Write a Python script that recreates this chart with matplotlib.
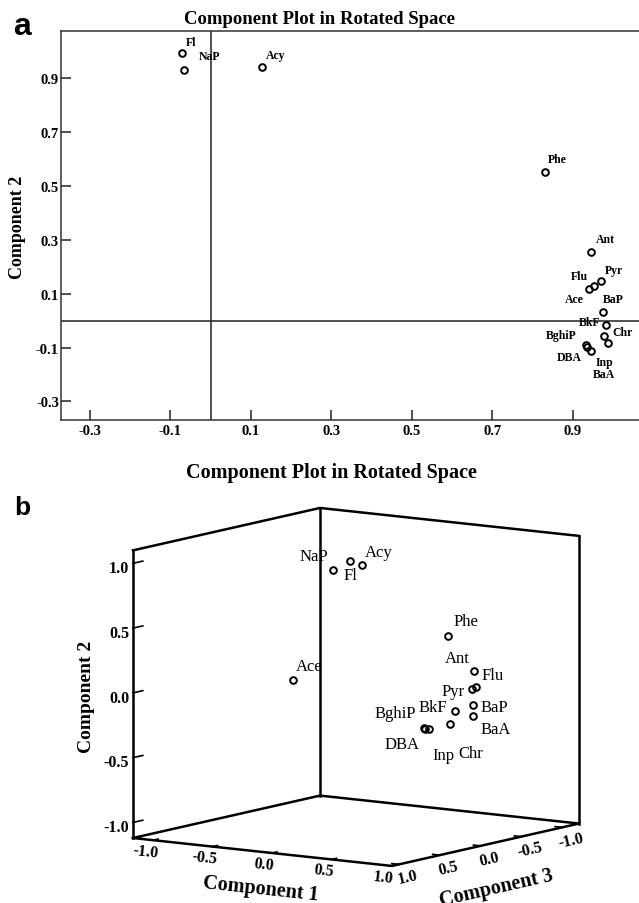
import numpy as np
import matplotlib
matplotlib.use("Agg")
import matplotlib.pyplot as plt

plt.rcParams["font.family"] = ["Liberation Serif", "DejaVu Serif"]
plt.rcParams["axes.unicode_minus"] = False

W, H = 639, 904

# ---------------------------------------------------------------
# data: (a) two-component rotated loadings
# ---------------------------------------------------------------
labels_a = ["Fl", "NaP", "Acy", "Phe", "Ant", "Pyr", "Flu", "Ace",
            "BaP", "BkF", "Chr", "BaA", "BghiP", "DBA", "Inp"]
comp1_a = [-0.072, -0.067, 0.128, 0.831, 0.946, 0.969, 0.940, 0.953,
           0.974, 0.983, 0.978, 0.988, 0.932, 0.936, 0.946]
comp2_a = [0.992, 0.930, 0.940, 0.551, 0.253, 0.148, 0.119, 0.129,
           0.033, -0.017, -0.056, -0.085, -0.091, -0.097, -0.112]
ticks_a = [-0.3, -0.1, 0.1, 0.3, 0.5, 0.7, 0.9]

# (b) three-component rotated loadings
labels_b = ["NaP", "Fl", "Acy", "Ace", "Phe", "Ant", "Flu", "Pyr",
            "BaP", "BaA", "BkF", "Chr", "BghiP", "DBA", "Inp"]
comp1_b = [-0.05, -0.02, 0.12, 0.10, 0.80, 0.90, 0.92, 0.92,
           0.94, 0.94, 0.90, 0.90, 0.88, 0.88, 0.88]
comp2_b = [0.94, 0.99, 0.98, 0.21, 0.49, 0.21, 0.09, 0.08,
           -0.04, -0.13, -0.07, -0.16, -0.15, -0.16, -0.17]
comp3_b = [0.26, 0.10, 0.16, 0.98, 0.09, -0.08, -0.07, -0.03,
           -0.01, -0.01, 0.16, 0.21, 0.51, 0.49, 0.44]
ticks_b = [-1.0, -0.5, 0.0, 0.5, 1.0]

# label offsets in pixels (right, down) from the marker
off_a = {"Fl": (9, -11), "NaP": (26, -14), "Acy": (13, -12), "Phe": (12, -13),
         "Ant": (14, -13), "Pyr": (13, -11), "Flu": (-10, -13), "Ace": (-20, 13),
         "BaP": (11, -13), "BkF": (-17, -3), "Chr": (18, -4), "BaA": (-4, 31),
         "BghiP": (-25, -10), "DBA": (-18, 10), "Inp": (13, 11)}
off_b = {"NaP": (-20, -14), "Fl": (0, 14), "Acy": (17, -13), "Ace": (17, -14),
         "Phe": (18, -15), "Ant": (-17, -13), "Flu": (17, -12), "Pyr": (-19, 2),
         "BaP": (21, 2), "BaA": (23, 13), "BkF": (-22, -4), "Chr": (20, 29),
         "BghiP": (-28, -15), "DBA": (-23, 15), "Inp": (14, 26)}

fig = plt.figure(figsize=(W / 100, H / 100), dpi=100)

# ---------------------------------------------------------------
# (a) 2D component plot
# ---------------------------------------------------------------
ax = fig.add_axes([61 / W, 1 - 421 / H, 580.4 / W, 388.7 / H])
ax.set_xlim(-0.372, 1.07)
ax.set_ylim(-0.369, 1.0735)
ax.axhline(0, color="#222222", lw=1.1, zorder=1)
ax.axvline(0, color="#222222", lw=1.1, zorder=1)
ax.plot(comp1_a, comp2_a, "o", ls="none", ms=4.8, mfc="none", mec="black", mew=1.4, zorder=3)
for lab, x, y in zip(labels_a, comp1_a, comp2_a):
    dx, dy = off_a[lab]
    ax.annotate(lab, (x, y), xytext=(dx, -dy), textcoords="offset pixels",
                ha="center", va="center", fontsize=8.5, fontweight="bold")
ax.set_xticks(ticks_a)
ax.set_yticks(ticks_a)
ax.set_xticklabels([f"{t:.1f}" for t in ticks_a], fontweight="bold")
ax.set_yticklabels([f"{t:.1f}" for t in ticks_a], fontweight="bold")
ax.tick_params(direction="in", length=7.5, width=1.1, labelsize=10.5, color="#222222")
ax.tick_params(axis="y", pad=1.5)
ax.tick_params(axis="x", pad=3)
for sp in ax.spines.values():
    sp.set_color("#333333")
    sp.set_linewidth(1.1)

fig.text(319 / W, 1 - 20 / H, "Component Plot in Rotated Space", ha="center", va="center",
         fontsize=13.5, fontweight="bold")
fig.text(18 / W, 1 - 227 / H, "Component 2", rotation=90, ha="center", va="center",
         fontsize=13, fontweight="bold")
fig.text(13 / W, 1 - 35 / H, "a", family="Liberation Sans", fontsize=23, fontweight="bold",
         ha="left", va="baseline")

# ---------------------------------------------------------------
# (b) 3D component plot (x = comp 3, y = comp 1, z = comp 2)
# ---------------------------------------------------------------
C1_LIM = (-1.17, 1.01)
C2_LIM = (-1.12, 1.10)
C3_LIM = (-1.205, 1.086)

axb = fig.add_axes([0.05, 0.0, 0.9, 0.45], projection="3d", proj_type="ortho")
axb.set_facecolor("none")
axb.patch.set_visible(False)
axb.set_xlim(C3_LIM)
axb.set_ylim(C1_LIM)
axb.set_zlim(C2_LIM)
axb.set_box_aspect((330.4, 315.7, 292.2))
axb.view_init(elev=9.0, azim=34.6)
axb.set_axis_off()

# back walls and floor of the box
c1a, c1b = C1_LIM
c2a, c2b = C2_LIM
c3a, c3b = C3_LIM
floor = [(c1a, c3b), (c1b, c3b), (c1b, c3a), (c1a, c3a), (c1a, c3b)]
box_kw = dict(color="black", lw=1.8, solid_capstyle="projecting")
axb.plot([p[1] for p in floor], [p[0] for p in floor], [c2a] * 5, **box_kw)
for c1v, c3v in [(c1a, c3b), (c1a, c3a), (c1b, c3a)]:
    axb.plot([c3v, c3v], [c1v, c1v], [c2a, c2b], **box_kw)
axb.plot([c3b, c3a, c3a], [c1a, c1a, c1b], [c2b, c2b, c2b], **box_kw)

# ticks
tk = dict(color="black", lw=1.2)
for t in ticks_b:
    axb.plot([c3b, c3b - 0.12], [c1a, c1a], [t, t], **tk)
    axb.plot([c3b, c3b - 0.06], [t, t], [c2a, c2a], **tk)
    axb.plot([t, t], [c1b, c1b - 0.06], [c2a, c2a], **tk)
    lab = f"{t:.1f}"
    axb.text(c3b + 0.045, c1a, t - 0.03, lab, ha="right", va="center", fontsize=11.5,
             fontweight="bold")
    axb.text(1.184, t, -1.19, lab, zdir=(0, 1, 0), ha="center", va="center",
             fontsize=11.5, fontweight="bold")
    axb.text(t, 1.08, -1.21, lab, zdir=(-1, 0, 0), ha="center", va="center",
             fontsize=11.5, fontweight="bold")

axb.text(1.3, 0.05, -1.36, "Component 1", zdir=(0, 1, 0), ha="center", va="center",
         fontsize=14.5, fontweight="bold")
axb.text(0.226, 1.3, -1.378, "Component 3", zdir=(-1, 0, 0), ha="center", va="center",
         fontsize=14.5, fontweight="bold")
axb.text(1.66, c1a, 0.057, "Component 2", zdir="z", ha="center", va="center",
         fontsize=14, fontweight="bold")

axb.plot(comp3_b, comp1_b, comp2_b, "o", ls="none", ms=4.8, mfc="none", mec="black", mew=1.4)


def project(c1, c2, c3):
    v = axb.get_proj() @ np.array([c3, c1, c2, 1.0])
    return v[0] / v[3], v[1] / v[3]


# scale/shift the 3D axes so the floor corners land where they sit in the original
fig.canvas.draw()
corner_l = axb.transData.transform(project(c1a, c2a, c3b))
corner_r = axb.transData.transform(project(c1b, c2a, c3a))
want_l = np.array([133.0, H - 839.0])
want_r = np.array([579.0, H - 825.0])
s = np.linalg.norm(want_r - want_l) / np.linalg.norm(corner_r - corner_l)
pos = axb.get_position()
x0, y0, side = pos.x0 * W, pos.y0 * H, pos.width * W
nx0 = want_l[0] - (corner_l[0] - x0) * s
ny0 = want_l[1] - (corner_l[1] - y0) * s
axb.set_position([nx0 / W, ny0 / H, side * s / W, side * s / H])

for lab, c1, c2, c3 in zip(labels_b, comp1_b, comp2_b, comp3_b):
    dx, dy = off_b[lab]
    axb.annotate(lab, project(c1, c2, c3), xytext=(dx, -dy), textcoords="offset pixels",
                 ha="center", va="center", fontsize=12)

fig.text(331 / W, 1 - 473 / H, "Component Plot in Rotated Space", ha="center", va="center",
         fontsize=14.5, fontweight="bold")
fig.text(14 / W, 1 - 515 / H, "b", family="Liberation Sans", fontsize=19, fontweight="bold",
         ha="left", va="baseline")

fig.savefig("out.png", dpi=100)
